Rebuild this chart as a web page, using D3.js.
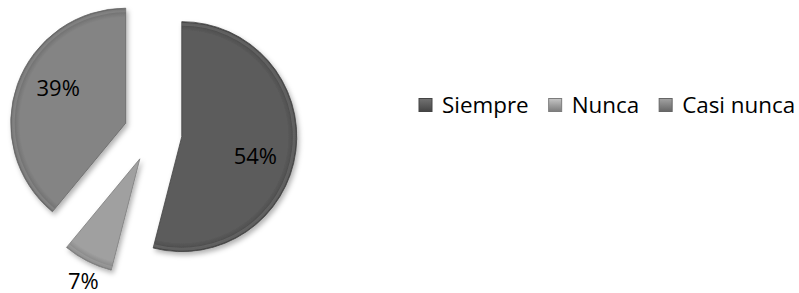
<!DOCTYPE html>
<html>
<head>
<meta charset="utf-8">
<script src="https://cdn.jsdelivr.net/npm/d3@7"></script>
<style>
  body { margin: 0; background: #fff; }
  svg { display: block; font-family: "Open Sans", sans-serif; }
</style>
</head>
<body>
<div id="chart"></div>
<script>
const categories = ["Siempre", "Nunca", "Casi nunca"]
const values = [54, 7, 39]
const colors = ["#5c5c5c", "#a0a0a0", "#848484"]
const edgeColors = ["#444444", "#7c7c7c", "#666666"]

const width = 799, height = 293
const radius = 115
const explode = 29

const svg = d3.select("#chart")
  .append("svg")
  .attr("width", width)
  .attr("height", height)

const defs = svg.append("defs")

const shadow = defs.append("filter")
  .attr("id", "shadow")
  .attr("x", "-20%").attr("y", "-20%")
  .attr("width", "140%").attr("height", "140%")
shadow.append("feDropShadow")
  .attr("dx", 2).attr("dy", 3)
  .attr("stdDeviation", 2.5)
  .attr("flood-color", "#000")
  .attr("flood-opacity", 0.3)

colors.forEach((c, i) => {
  const g = defs.append("radialGradient")
    .attr("id", "grad" + i)
    .attr("gradientUnits", "userSpaceOnUse")
    .attr("cx", 0).attr("cy", 0).attr("r", radius)
  g.append("stop").attr("offset", "0%").attr("stop-color", c)
  g.append("stop").attr("offset", "92%").attr("stop-color", c)
  g.append("stop").attr("offset", "100%").attr("stop-color", edgeColors[i])

  const lg = defs.append("linearGradient")
    .attr("id", "lgrad" + i)
    .attr("x1", 0).attr("y1", 0).attr("x2", 0).attr("y2", 1)
  lg.append("stop").attr("offset", "0%").attr("stop-color", d3.color(c).brighter(0.6))
  lg.append("stop").attr("offset", "50%").attr("stop-color", c)
  lg.append("stop").attr("offset", "100%").attr("stop-color", edgeColors[i])
})

const pie = d3.pie().sort(null).value(d => d)
const arcs = pie(values)

const arc = d3.arc().innerRadius(0).outerRadius(radius)
const cx = 153, cy = 133

const offset = a => {
  const mid = (a.startAngle + a.endAngle) / 2
  return [Math.sin(mid) * explode, -Math.cos(mid) * explode]
}

const chart = svg.append("g")
  .attr("transform", `translate(${cx},${cy})`)

const slices = chart.selectAll("g.slice")
  .data(arcs)
  .enter()
  .append("g")
  .attr("class", "slice")
  .attr("transform", d => `translate(${offset(d)})`)

slices.append("path")
  .attr("d", arc)
  .attr("fill", (d, i) => `url(#grad${i})`)
  .attr("stroke", (d, i) => edgeColors[i])
  .attr("stroke-width", 0.8)
  .attr("filter", "url(#shadow)")

// light bevel highlight along outer edge
slices.append("path")
  .attr("d", d3.arc().innerRadius(radius - 4).outerRadius(radius - 1))
  .attr("fill", "#fff")
  .attr("opacity", 0.12)

// label placement: small slices outside the end, others inside
const labelPos = d => {
  const small = d.data < 10
  const a = (d.startAngle + d.endAngle) / 2 + (small ? -0.04 : 0.13)
  const r = small ? 135 : 76
  return [Math.sin(a) * r, -Math.cos(a) * r]
}

slices.append("text")
  .attr("transform", d => `translate(${labelPos(d)})`)
  .attr("text-anchor", "middle")
  .attr("dy", "0.35em")
  .attr("font-size", 22)
  .attr("fill", "#000")
  .text(d => d.data + "%")

// legend
const legend = svg.append("g")
  .attr("transform", "translate(419,105)")

let x = 0
categories.forEach((name, i) => {
  const item = legend.append("g").attr("transform", `translate(${x},0)`)
  item.append("rect")
    .attr("x", 0).attr("y", -6.5)
    .attr("width", 13).attr("height", 13)
    .attr("fill", `url(#lgrad${i})`)
    .attr("stroke", edgeColors[i])
    .attr("stroke-width", 1)
  const t = item.append("text")
    .attr("x", 23)
    .attr("dy", "0.35em")
    .attr("font-size", 22.4)
    .attr("fill", "#000")
    .text(name)
  x += 23 + t.node().getComputedTextLength() + 20
})
</script>
</body>
</html>
